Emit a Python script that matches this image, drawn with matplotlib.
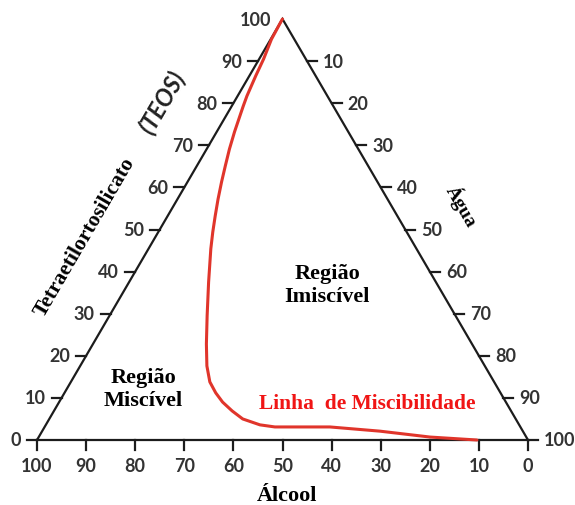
"""
Ternary diagram TEOS / Agua / Alcool with the miscibility line.
"""

import matplotlib
matplotlib.use("Agg")
import matplotlib.pyplot as plt

# ternary scale values
teos_ticks = [0, 10, 20, 30, 40, 50, 60, 70, 80, 90, 100]
agua_ticks = [10, 20, 30, 40, 50, 60, 70, 80, 90, 100]
alcool_ticks = [100, 90, 80, 70, 60, 50, 40, 30, 20, 10, 0]

# miscibility line (% TEOS, % Agua)
curve_teos = [100, 99.5, 95.2, 90.5, 86.5, 81.7, 79.3, 77.0, 73.2, 69.1,
              65.1, 61.3, 57.2, 53.2, 49.4, 45.4, 37.5, 29.5, 22.8, 17.6,
              13.8, 11.2, 9.0, 6.9, 5.0, 3.6, 3.1, 3.1, 3.1, 2.1, 0.7, 0]
curve_agua = [0, 0, 0.15, 0.9, 1.3, 1.9, 2.35, 2.83, 3.63, 4.64,
              5.8, 6.94, 8.27, 9.69, 11.1, 12.7, 16.2, 19.9, 23.1, 25.8,
              28.3, 30.8, 33.3, 36.3, 39.4, 43.6, 46.9, 50.0, 58.1, 68.8,
              79.7, 89.6]

H = 85.74  # triangle height (side = 100)
PX = 4.91  # pixels per unit

LINE = "#1c1c1c"
TICKC = "#333333"
RED = "#e0352b"
TXTRED = "#f01515"
SERIF = "Liberation Serif"
SANS = "Lato"


def to_xy(teos, agua):
    """ternary (TEOS, Agua) -> cartesian"""
    return agua + teos / 2.0, teos * H / 100.0


fig = plt.figure(figsize=(5.75, 5.06), dpi=100)
ax = fig.add_axes([0, 0, 1, 1])
ax.set_xlim(-37 / PX, 538 / PX)
ax.set_ylim(-65 / PX, 441 / PX)
ax.axis("off")

# triangle
tri_x = [0, 100, 50, 0]
tri_y = [0, 0, H, 0]
ax.plot(tri_x, tri_y, color=LINE, lw=1.6, solid_joinstyle="miter")

tl = 10 / PX  # tick length
gap = 16 / PX
tick_font = dict(family=SANS, weight="bold", fontsize=13, color=TICKC)

# left side: TEOS
for t in teos_ticks:
    x, y = to_xy(t, 0)
    if t < 100:
        ax.plot([x - tl, x], [y, y], color=LINE, lw=1.6)
        ax.text(x - gap, y, str(t), ha="right", va="center", **tick_font)
    else:
        ax.text(x - 11 / PX, y, str(t), ha="right", va="center",
                **tick_font)

# right side: Agua
for a in agua_ticks:
    x, y = to_xy(100 - a, a)
    ax.plot([x, x + tl], [y, y], color=LINE, lw=1.6)
    ax.text(x + gap, y, str(a), ha="left", va="center", **tick_font)

# bottom: Alcool
for c in alcool_ticks:
    x, y = to_xy(0, 100 - c)
    ax.plot([x, x], [y, y - tl], color=LINE, lw=1.6)
    ax.text(x, y - 17 / PX, str(c), ha="center", va="top", **tick_font)

# miscibility line
cx, cy = [], []
for t, a in zip(curve_teos, curve_agua):
    px, py = to_xy(t, a)
    cx.append(px)
    cy.append(py)
ax.plot(cx, cy, color=RED, lw=2.2, solid_capstyle="round",
        solid_joinstyle="round")

# axis titles
ang = 59.75
ax.text(9.78, 41.45, "Tetraetilortosilicato", rotation=ang,
        rotation_mode="anchor", ha="center", va="center",
        family=SERIF, weight="bold", fontsize=15.5)
ax.text(25.46, 68.84, "(TEOS)", rotation=ang, rotation_mode="anchor",
        ha="center", va="center", family=SANS, weight="bold",
        style="italic", fontsize=17, color="#222222")
ax.text(86.56, 47.86, "Água", rotation=-ang, rotation_mode="anchor",
        ha="center", va="center", family=SERIF, weight="bold", fontsize=14)
ax.text(50.9, -11.2, "Álcool", ha="center", va="center",
        family=SERIF, weight="bold", fontsize=16)

# region labels
ax.text(59.06, 31.67, "Região\nImiscível", ha="center", va="center",
        family=SERIF, weight="bold", fontsize=16, linespacing=1.2)
ax.text(21.59, 10.39, "Região\nMiscível", ha="center", va="center",
        family=SERIF, weight="bold", fontsize=16, linespacing=1.2)
ax.text(67.2, 7.54, "Linha  de Miscibilidade", ha="center", va="center",
        family=SERIF, weight="bold", fontsize=15.5, color=TXTRED)

fig.savefig("out.png", dpi=100)
